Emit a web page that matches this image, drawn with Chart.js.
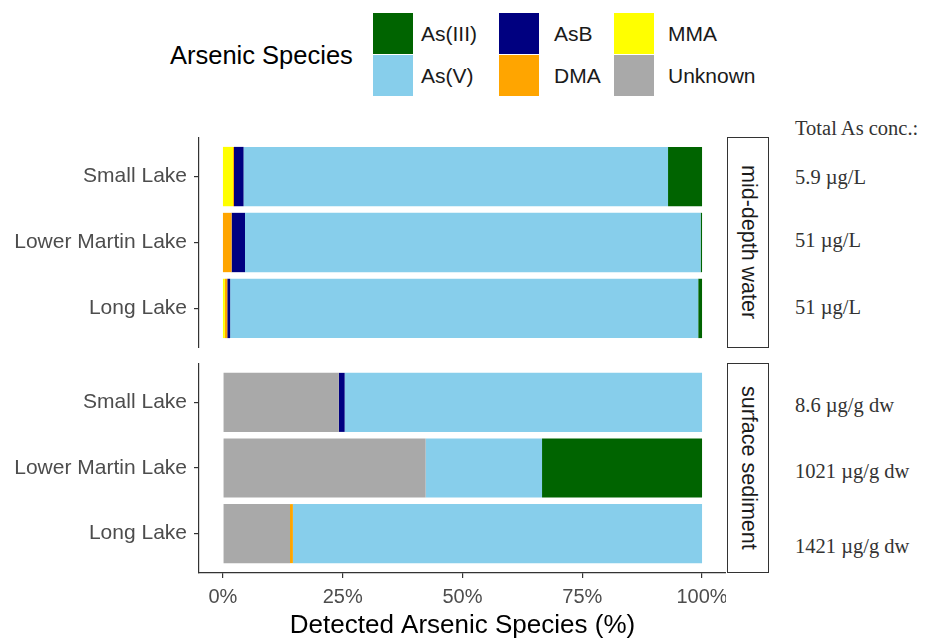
<!DOCTYPE html>
<html>
<head>
<meta charset="utf-8">
<script src="https://cdn.jsdelivr.net/npm/chart.js@4.4.1/dist/chart.umd.min.js"></script>
<style>
  html, body { margin: 0; padding: 0; background: #fff; }
  #wrap { position: relative; width: 928px; height: 643px; overflow: hidden; background: #fff; font-family: "Liberation Sans", Arial, sans-serif; }
  .abs { position: absolute; white-space: nowrap; }
  .strip { position: absolute; border: 1.6px solid #333; box-sizing: border-box; display: flex; align-items: center; justify-content: center; background: #fff; }
  .strip span { writing-mode: vertical-rl; font-size: 21.5px; color: #1a1a1a; }
</style>
</head>
<body>
<div id="wrap">
  <div class="abs" style="left:0;top:137px;width:726px;height:211px;"><canvas id="top" width="726" height="211"></canvas></div>
  <div class="abs" style="left:0;top:363px;width:726px;height:280px;"><canvas id="bot" width="726" height="280"></canvas></div>
</div>
<script>
// ---- data ----
const lakes = ["Small Lake", "Lower Martin Lake", "Long Lake"];
const panels = ["mid-depth water", "surface sediment"];
const species = ["Unknown", "MMA", "DMA", "AsB", "As(V)", "As(III)"]; // stacking order, left to right
const legendOrder = ["As(III)", "As(V)", "AsB", "DMA", "MMA", "Unknown"];
const speciesColors = {"As(III)": "#006400", "As(V)": "#87CEEB", "AsB": "#000080", "DMA": "#FFA500", "MMA": "#FFFF00", "Unknown": "#A9A9A9"};

// mid-depth water (%), per lake: Small, Lower Martin, Long
const waterUnknown = [0, 0, 0];
const waterMMA     = [2.1, 0, 0.4];
const waterDMA     = [0.2, 1.8, 0.5];
const waterAsB     = [2.0, 2.8, 0.6];
const waterAsV     = [88.6, 95.1, 97.7];
const waterAsIII   = [7.1, 0.3, 0.8];

// surface sediment (%)
const sedUnknown = [24.2, 42.3, 14.0];
const sedMMA     = [0, 0, 0];
const sedDMA     = [0, 0, 0.6];
const sedAsB     = [1.2, 0, 0];
const sedAsV     = [74.6, 24.3, 85.4];
const sedAsIII   = [0, 33.4, 0];

const xTicks = [0, 25, 50, 75, 100];
const totalTitle = "Total As conc.:";
const waterTotals = ["5.9 µg/L", "51 µg/L", "51 µg/L"];
const sedTotals = ["8.6 µg/g dw", "1021 µg/g dw", "1421 µg/g dw"];

const waterSeries = {"Unknown": waterUnknown, "MMA": waterMMA, "DMA": waterDMA, "AsB": waterAsB, "As(V)": waterAsV, "As(III)": waterAsIII};
const sedSeries = {"Unknown": sedUnknown, "MMA": sedMMA, "DMA": sedDMA, "AsB": sedAsB, "As(V)": sedAsV, "As(III)": sedAsIII};

// ---- charts ----
const FONT = "'Liberation Sans', Arial, sans-serif";
Chart.defaults.font.family = FONT;

function datasets(series) {
  return species.map(sp => ({
    label: sp,
    data: series[sp].map((v, i) => ({x: v, y: i + 1})),
    backgroundColor: speciesColors[sp],
    borderWidth: 0,
    barPercentage: 1.0,
    categoryPercentage: 0.9
  }));
}

function makeChart(id, series, showX) {
  return new Chart(document.getElementById(id), {
    type: 'bar',
    data: { datasets: datasets(series) },
    options: {
      indexAxis: 'y',
      responsive: false,
      animation: false,
      devicePixelRatio: 1,
      layout: { padding: 0 },
      plugins: { legend: { display: false }, tooltip: { enabled: false } },
      scales: {
        x: {
          type: 'linear', stacked: true, min: -5, max: 105,
          display: showX,
          afterBuildTicks: s => { s.ticks = xTicks.map(v => ({value: v})); },
          afterFit: s => { s.height = showX ? 70 : 0; s.paddingLeft = 0; s.paddingRight = 0; },
          grid: { drawOnChartArea: false, tickLength: 5, color: '#333', lineWidth: 1.2 },
          border: { color: '#333', width: 1.2 },
          ticks: { color: '#4d4d4d', font: { size: 20 }, padding: 7, callback: v => v + '%' },
          title: { display: true, text: 'Detected Arsenic Species (%)', color: '#000', font: { size: 26 }, padding: { top: 0, bottom: 2 } }
        },
        y: {
          type: 'linear', stacked: true, min: 0.4, max: 3.6, reverse: true,
          offset: false,
          afterBuildTicks: s => { s.ticks = lakes.map((l, i) => ({value: i + 1})); },
          afterFit: s => { s.width = 199; s.paddingTop = 0; s.paddingBottom = 0; },
          grid: { offset: false, drawOnChartArea: false, tickLength: 5, color: '#333', lineWidth: 1.2 },
          border: { color: '#333', width: 1.2 },
          ticks: { color: '#4d4d4d', font: { size: 21 }, padding: 7, callback: v => lakes[v - 1] }
        }
      }
    }
  });
}

makeChart('top', waterSeries, false);
makeChart('bot', sedSeries, true);

// ---- legend, strips, annotations (HTML text) ----
const wrap = document.getElementById('wrap');
function addText(txt, left, cy, size, color, family, h) {
  const d = document.createElement('div');
  d.className = 'abs';
  d.textContent = txt;
  d.style.left = left + 'px';
  d.style.top = (cy - h / 2) + 'px';
  d.style.height = h + 'px';
  d.style.lineHeight = h + 'px';
  d.style.fontSize = size + 'px';
  d.style.color = color;
  if (family) d.style.fontFamily = family;
  wrap.appendChild(d);
}

addText('Arsenic Species', 170, 55, 25.5, '#000', null, 32);
const keyLefts = [373, 499, 614], labelLefts = [421, 554, 668], rowTops = [13, 55];
legendOrder.forEach((sp, k) => {
  const col = Math.floor(k / 2), row = k % 2;
  const key = document.createElement('div');
  key.className = 'abs';
  key.style.left = keyLefts[col] + 'px';
  key.style.top = rowTops[row] + 'px';
  key.style.width = '40px';
  key.style.height = '41px';
  key.style.background = speciesColors[sp];
  wrap.appendChild(key);
  addText(sp, labelLefts[col], rowTops[row] + 21, 21, '#1a1a1a', null, 28);
});

[[137, 211], [363, 210]].forEach(([t, h], i) => {
  const s = document.createElement('div');
  s.className = 'strip';
  s.style.left = '727px';
  s.style.top = t + 'px';
  s.style.width = '42px';
  s.style.height = h + 'px';
  const sp = document.createElement('span');
  sp.textContent = panels[i];
  s.appendChild(sp);
  wrap.appendChild(s);
});

const SERIF = "'Liberation Serif', 'Times New Roman', serif";
addText(totalTitle, 795, 128, 20.5, '#333', SERIF, 26);
const waterY = [177, 240, 307], sedY = [405, 471, 546];
waterTotals.forEach((t, i) => addText(t, 795, waterY[i], 20.5, '#333', SERIF, 26));
sedTotals.forEach((t, i) => addText(t, 795, sedY[i], 20.5, '#333', SERIF, 26));
</script>
</body>
</html>
